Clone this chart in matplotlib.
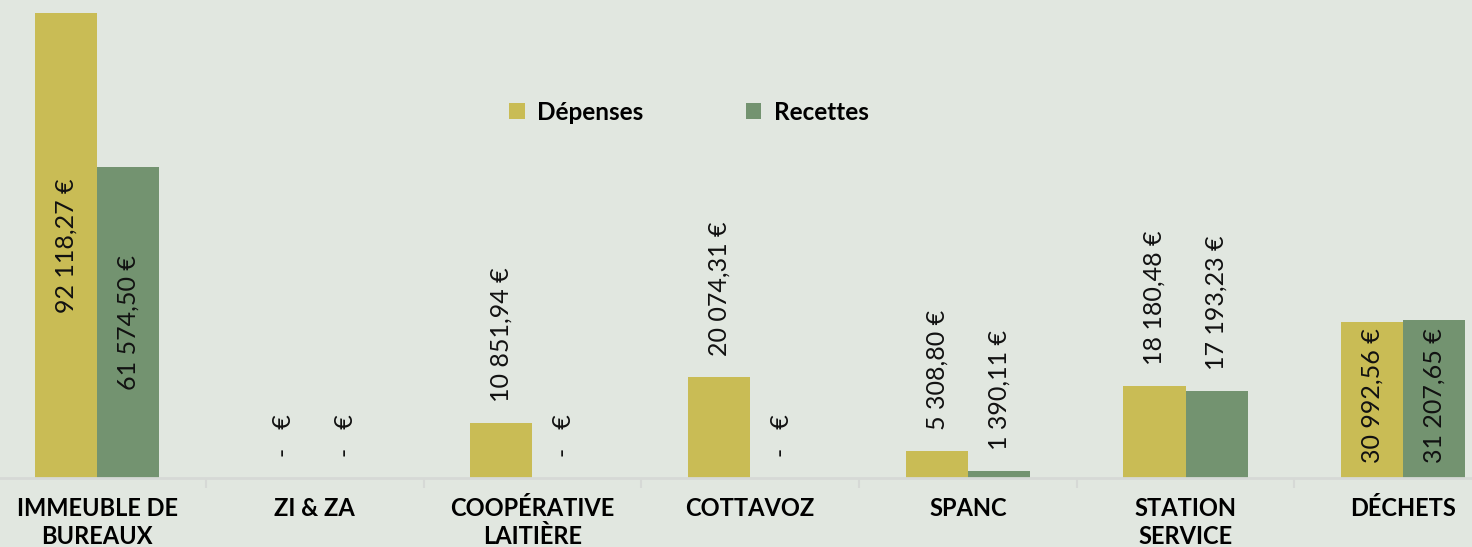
import numpy as np
import matplotlib
matplotlib.use('Agg')
import matplotlib.pyplot as plt

plt.rcParams['font.family'] = ['Lato', 'DejaVu Sans']

categories = ['IMMEUBLE DE\nBUREAUX', 'ZI & ZA', 'COOPÉRATIVE\nLAITIÈRE', 'COTTAVOZ',
              'SPANC', 'STATION\nSERVICE', 'DÉCHETS']
depenses = [92118.27, 0, 10851.94, 20074.31, 5308.80, 18180.48, 30992.56]
recettes = [61574.50, 0, 0, 0, 1390.11, 17193.23, 31207.65]
# placement des étiquettes : 'out' au-dessus, 'center' au milieu, 'base' en bas de barre
pos_dep = ['center', 'out', 'out', 'out', 'out', 'out', 'base']
pos_rec = ['center', 'out', 'out', 'out', 'out', 'out', 'base']

bg = '#E1E7E0'
col_dep = '#C9BC55'
col_rec = '#739370'


def fmt_euro(v):
    if v == 0:
        return '-   €'
    s = f"{v:,.2f}".replace(',', ' ').replace('.', ',')
    return s + ' €'


fig = plt.figure(figsize=(14.72, 5.47), dpi=100, facecolor=bg)
ax = fig.add_axes([0, 69 / 547, 1, 478 / 547])
ax.set_facecolor(bg)

x = np.arange(len(categories))
w = 0.285
b1 = ax.bar(x - w / 2, depenses, w, color=col_dep, label='Dépenses')
b2 = ax.bar(x + w / 2, recettes, w, color=col_rec, label='Recettes')

ax.set_xlim(-0.4456, 6.316)
ax.set_ylim(0, 94690)

fs = 18
for bars, vals, poss in [(b1, depenses, pos_dep), (b2, recettes, pos_rec)]:
    for bar, v, p in zip(bars, vals, poss):
        cx = bar.get_x() + bar.get_width() / 2
        if p == 'out':
            ax.annotate(fmt_euro(v), (cx, v), xytext=(0, 15), textcoords='offset points',
                        rotation=90, ha='center', va='bottom', fontsize=fs, color='#111111')
        elif p == 'center':
            ax.annotate(fmt_euro(v), (cx, v / 2), rotation=90, ha='center', va='center',
                        fontsize=fs, color='#111111')
        else:
            ax.annotate(fmt_euro(v), (cx, 0), xytext=(0, 11), textcoords='offset points',
                        rotation=90, ha='center', va='bottom', fontsize=fs, color='#111111')

for s in ['top', 'right', 'left']:
    ax.spines[s].set_visible(False)
ax.spines['bottom'].set_color('#D6D9D6')
ax.spines['bottom'].set_linewidth(2)
ax.set_yticks([])

ax.set_xticks(x)
ax.set_xticklabels(categories, fontsize=17, fontweight='bold', linespacing=1.22)
ax.tick_params(axis='x', which='major', length=0, pad=14)
ax.set_xticks(x[:-1] + 0.5, minor=True)
ax.tick_params(axis='x', which='minor', length=7, width=1.5, color='#D6D9D6')

leg = ax.legend(loc='upper center', bbox_to_anchor=(0.468, 0.835), ncol=2, frameon=False,
                prop={'weight': 'bold', 'size': 17.5}, handlelength=0.65, handleheight=0.65,
                handletextpad=0.5, columnspacing=4.2)

fig.savefig('out.png', dpi=100, facecolor=bg)
